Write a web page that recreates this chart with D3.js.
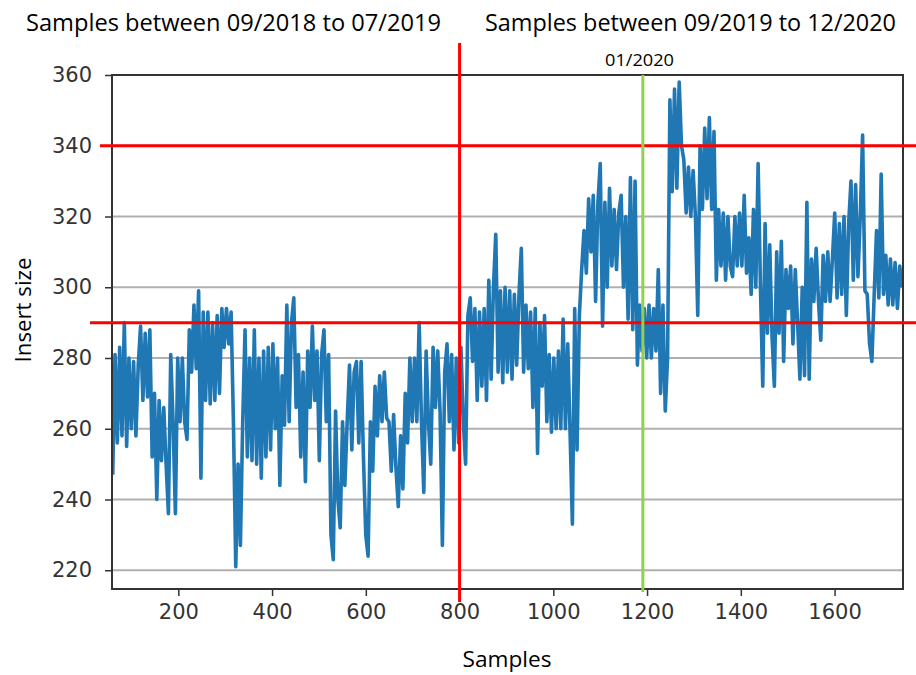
<!DOCTYPE html>
<html>
<head>
<meta charset="utf-8">
<script src="https://cdn.jsdelivr.net/npm/d3@7/dist/d3.min.js"></script>
<style>body{margin:0;background:#fff;} svg{display:block;}</style>
</head>
<body>
<svg id="chart" width="916" height="675"></svg>
<script>
// ---------- data ----------
const titleLeft = "Samples between 09/2018 to 07/2019";
const titleRight = "Samples between 09/2019 to 12/2020";
const xLabel = "Samples";
const yLabel = "Insert size";
const markerLabel = "01/2020";

const xTicks = [200, 400, 600, 800, 1000, 1200, 1400, 1600];
const yTicks = [220, 240, 260, 280, 300, 320, 340, 360];

const refSample = [800];          // red vertical line
const refSizes = [340, 290];      // red horizontal lines
const markerSample = [1191];      // green vertical line (01/2020)

const sampleStart = 60, sampleEnd = 1744;

const sizesA = [247,281,256,283,258,290,255,280,260,279,
  258,278,289,268,287,269,288,252,270,240,
  268,251,266,250,236,281,262,236,280,262,
  280,262,257,288,276,295,277,299,246,293,
  268,293,267,290,268,292,270,294,283,294,
  284,293,262,221,250,227,262,288,252,280,
  251,288,250,280,246,282,252,283];
const sizesB = [254,284,260,280,244,275,261,295,262,290,
  297,266,281,252,276,245,282,266,289,268,
  282,251,281,288,262,281,230,223,265,240,
  232,262,244,262,278,254,276,279,256,279,
  252,230,224,262,248,272,258,275,262,276,
  263,262,248,264,249,238,258,243,270,256,
  280,262,280,262,290,262,242,282,262];
const sizesC = [250,283,266,282,265,227,276,284,262,281,
  254,280,256,283,262,250,292,297,279,294,
  268,293,272,294,268,302,274,300,315,276,
  299,273,300,276,299,274,298,278,298,311,
  276,295,277,293,266,294,253,290,272,292,
  262,281,259,280,260,282,260,291,260,284,
  259,233,294,254,292,305,316,304,325];
const sizesD = [310,326,296,324,335,289,324,300,328,306,
  322,305,321,326,300,320,291,331,288,330,
  278,295,282,294,280,295,280,294,282,305,
  270,295,265,280,353,327,356,328,358,340,
  336,321,334,320,333,320,292,340,322,345,
  325,348,322,344,302,322,306,321,302,320,
  306,303,320,306,321,306,326,304,314];
const sizesE = [298,322,300,335,300,272,318,287,312,286,
  272,310,287,313,279,305,294,306,284,305,
  290,274,300,275,324,274,308,296,311,296,
  285,309,296,310,296,308,321,297,318,298,
  320,292,318,330,302,329,303,320,343,299,
  298,284,279,298,316,297,332,298,309,295,
  308,295,307,294,306,300];

const insertSize = [].concat(sizesA, sizesB, sizesC, sizesD, sizesE);
const n = insertSize.length;
const series = insertSize.map((v, i) => ({
  s: sampleStart + i * (sampleEnd - sampleStart) / (n - 1),
  v: v
}));

// ---------- layout ----------
const W = 916, H = 675;
const plot = {left: 112, right: 903, top: 75, bottom: 589};

const x = d3.scaleLinear().domain([58.5, 1746]).range([plot.left, plot.right]);
const y = d3.scaleLinear().domain([214.7, 360]).range([plot.bottom, plot.top]);

const svg = d3.select("#chart");
svg.append("rect").attr("width", W).attr("height", H).attr("fill", "#fff");

svg.append("defs").append("clipPath").attr("id", "clip")
  .append("rect").attr("x", plot.left).attr("y", plot.top)
  .attr("width", plot.right - plot.left).attr("height", plot.bottom - plot.top);

// gridlines
svg.append("g").selectAll("line").data(yTicks).join("line")
  .attr("x1", plot.left).attr("x2", plot.right)
  .attr("y1", d => y(d)).attr("y2", d => y(d))
  .attr("stroke", "#b0b0b0").attr("stroke-width", 2);

// data line
const line = d3.line().x(d => x(d.s)).y(d => y(d.v));
svg.append("path").datum(series)
  .attr("clip-path", "url(#clip)")
  .attr("d", line)
  .attr("fill", "none")
  .attr("stroke", "#1f77b4")
  .attr("stroke-width", 3.6)
  .attr("stroke-linejoin", "round");

// axes
const yAxis = d3.axisLeft(y).tickValues(yTicks).tickSize(7).tickPadding(6).tickFormat(d3.format("d"));
const xAxis = d3.axisBottom(x).tickValues(xTicks).tickSize(7).tickPadding(8).tickFormat(d3.format("d"));
const gy = svg.append("g").attr("transform", `translate(${plot.left},0)`).call(yAxis);
const gx = svg.append("g").attr("transform", `translate(0,${plot.bottom})`).call(xAxis);
[gx, gy].forEach(g => {
  g.select(".domain").remove();
  g.selectAll(".tick line").attr("stroke", "#333").attr("stroke-width", 1.5);
  g.selectAll(".tick text").attr("fill", "#333")
    .style("font-family", "'DejaVu Sans', sans-serif").style("font-size", "21px");
});
gy.selectAll(".tick text").attr("x", -20);

// frame
svg.append("rect")
  .attr("x", plot.left).attr("y", plot.top)
  .attr("width", plot.right - plot.left).attr("height", plot.bottom - plot.top)
  .attr("fill", "none").attr("stroke", "#333").attr("stroke-width", 2);

// reference lines
svg.append("g").selectAll("line").data(refSizes).join("line")
  .attr("x1", (d, i) => i === 0 ? 100 : 90).attr("x2", W)
  .attr("y1", d => y(d)).attr("y2", d => y(d))
  .attr("stroke", "#ff0000").attr("stroke-width", 3);

svg.append("g").selectAll("line").data(refSample).join("line")
  .attr("x1", d => x(d)).attr("x2", d => x(d))
  .attr("y1", 43).attr("y2", 602)
  .attr("stroke", "#ff0000").attr("stroke-width", 3);

svg.append("g").selectAll("line").data(markerSample).join("line")
  .attr("x1", d => x(d)).attr("x2", d => x(d))
  .attr("y1", plot.top).attr("y2", plot.bottom + 3)
  .attr("stroke", "#92d050").attr("stroke-width", 3);

// texts
const font = "'Open Sans', 'Noto Sans', sans-serif";
function label(txt, xx, yy, size, len, anchor, rotate) {
  const t = svg.append("text").text(txt)
    .attr("x", xx).attr("y", yy)
    .attr("text-anchor", anchor || "start")
    .attr("font-family", font).attr("font-size", size)
    .attr("fill", "#000")
    .attr("textLength", len).attr("lengthAdjust", "spacingAndGlyphs");
  if (rotate) t.attr("transform", `rotate(-90,${xx},${yy})`);
  return t;
}
label(titleLeft, 26, 31, 23, 415, "start");
label(titleRight, 485, 31, 23, 411, "start");
label(markerLabel, 639.5, 66, 16, 69, "middle");
label(xLabel, 507, 667, 22, 89, "middle");
label(yLabel, 31, 310, 22, 105, "middle", true);
</script>
</body>
</html>
